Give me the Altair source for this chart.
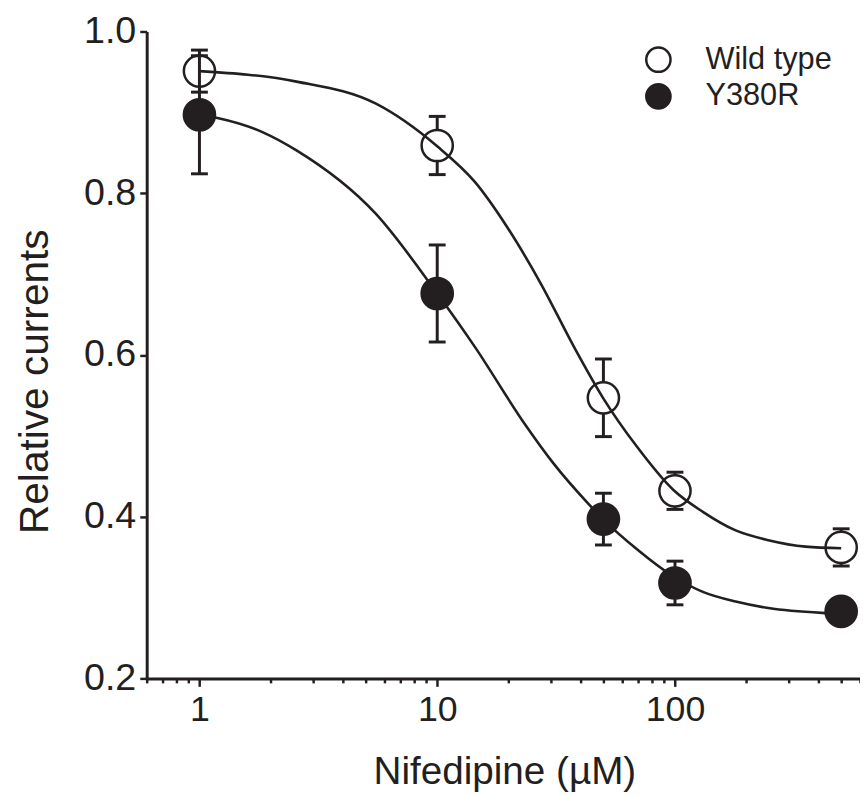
import altair as alt
import pandas as pd

# ---- data ----
conc = [1, 10, 50, 100, 500]
wt_mean = [0.951, 0.859, 0.547, 0.432, 0.362]
wt_sem = [0.026, 0.036, 0.048, 0.023, 0.023]
mut_mean = [0.897, 0.676, 0.397, 0.318, 0.283]
mut_sem = [0.073, 0.060, 0.032, 0.027, 0.010]

curve_wt_x = [1, 2.56, 5.5, 10, 14.4, 19.8, 27.3, 37.6, 49.8, 69, 98.5, 131, 180, 247, 354, 500]
curve_wt_y = [0.951, 0.938, 0.911, 0.858, 0.814, 0.757, 0.688, 0.610, 0.547, 0.487, 0.433,
              0.406, 0.383, 0.371, 0.363, 0.361]
curve_mut_x = [1, 1.19, 1.86, 2.56, 5.5, 10, 14.4, 23.3, 31, 42.6, 49.8, 69, 98.5, 131, 180, 247, 414, 500]
curve_mut_y = [0.897, 0.893, 0.875, 0.853, 0.775, 0.676, 0.610, 0.515, 0.465, 0.418, 0.397,
               0.360, 0.326, 0.307, 0.295, 0.287, 0.281, 0.280]

series_names = ["Wild type", "Y380R"]
x_tick_values = [0.6, 0.7, 0.8, 0.9, 1, 2, 3, 4, 5, 6, 7, 8, 9, 10, 20, 30, 40, 50, 60, 70, 80, 90,
                 100, 200, 300, 400, 500, 600]
x_major = [1, 10, 100]
y_tick_values = [0.2, 0.4, 0.6, 0.8, 1.0]

INK = "#231f20"
FONT = "Liberation Sans"

pts = pd.DataFrame({
    "conc": conc * 2,
    "val": wt_mean + mut_mean,
    "sem": wt_sem + mut_sem,
    "series": [series_names[0]] * len(conc) + [series_names[1]] * len(conc),
})
pts["lo"] = pts["val"] - pts["sem"]
pts["hi"] = pts["val"] + pts["sem"]

curves = pd.DataFrame({
    "conc": curve_wt_x + curve_mut_x,
    "val": curve_wt_y + curve_mut_y,
    "series": [series_names[0]] * len(curve_wt_x) + [series_names[1]] * len(curve_mut_x),
})

major_test = "indexof(" + str(x_major) + ", datum.value) >= 0"

x_axis = alt.Axis(
    values=x_tick_values,
    labelExpr="indexof(" + str(x_major) + ", datum.value) >= 0 ? datum.label : ''",
    format="~g",
    tickSize={"condition": {"test": major_test, "value": 8}, "value": 4.5},
    labelPadding=6,
    labelFontSize=36,
    title="Nifedipine (µM)",
    titleFontSize=39,
    titleFontWeight="normal",
    titleBaseline="alphabetic",
    titleAlign="center",
    titleX=361,
    titleY=106,
)
y_axis = alt.Axis(
    values=y_tick_values,
    format=".1f",
    tickSize=7,
    labelPadding=4,
    labelFontSize=38,
    title="Relative currents",
    titleFontSize=41,
    titleFontWeight="normal",
    titleAngle=-90,
    titleBaseline="alphabetic",
    titleAlign="center",
    titleX=-100,
    titleY=353,
)

xs = alt.Scale(type="log", domain=[0.6, 600], nice=False)
ys = alt.Scale(domain=[0.2, 1.0], nice=False, zero=False)

X = alt.X("conc:Q", scale=xs, axis=x_axis)
Y = alt.Y("val:Q", scale=ys, axis=y_axis)

fill_enc = alt.Fill(
    "series:N",
    scale=alt.Scale(domain=series_names, range=["white", INK]),
    legend=alt.Legend(
        title=None,
        orient="none",
        legendX=501,
        legendY=13,
        symbolType="circle",
        symbolSize=600,
        symbolStrokeColor=INK,
        symbolStrokeWidth=2.5,
        labelFontSize=31,
        labelFont=FONT,
        labelColor=INK,
        labelOffset=32,
        rowPadding=2,
        padding=0,
    ),
)


def bars(name):
    base = alt.Chart(pts).transform_filter(alt.datum.series == name)
    rule = base.mark_rule(color=INK, strokeWidth=3).encode(
        x=alt.X("conc:Q", scale=xs), y=alt.Y("lo:Q", scale=ys), y2="hi:Q")
    cap_lo = base.mark_tick(color=INK, orient="horizontal", size=17, thickness=3, opacity=1).encode(
        x=alt.X("conc:Q", scale=xs), y=alt.Y("lo:Q", scale=ys))
    cap_hi = base.mark_tick(color=INK, orient="horizontal", size=17, thickness=3, opacity=1).encode(
        x=alt.X("conc:Q", scale=xs), y=alt.Y("hi:Q", scale=ys))
    return rule + cap_lo + cap_hi


def points(name):
    return alt.Chart(pts).transform_filter(alt.datum.series == name).mark_point(
        shape="circle", size=992, filled=True, stroke=INK, strokeWidth=2.5, opacity=1
    ).encode(x=X, y=Y, fill=fill_enc)


lines = alt.Chart(curves).mark_line(color=INK, strokeWidth=2.6, interpolate="monotone").encode(
    x=X, y=Y, detail="series:N")

chart = alt.layer(
    bars(series_names[0]),
    points(series_names[0]),
    lines,
    bars(series_names[1]),
    points(series_names[1]),
).properties(
    width=720,
    height=653,
    autosize=alt.AutoSizeParams(type="none"),
    padding={"left": 140, "top": 20, "right": 0, "bottom": 116},
    background="white",
).configure_view(stroke=None).configure_axis(
    grid=False,
    domainColor=INK,
    domainWidth=3,
    tickColor=INK,
    tickWidth=2.5,
    labelColor=INK,
    titleColor=INK,
    labelFont=FONT,
    titleFont=FONT,
)

chart.save("out.html", embed_options={"renderer": "svg", "actions": False})
